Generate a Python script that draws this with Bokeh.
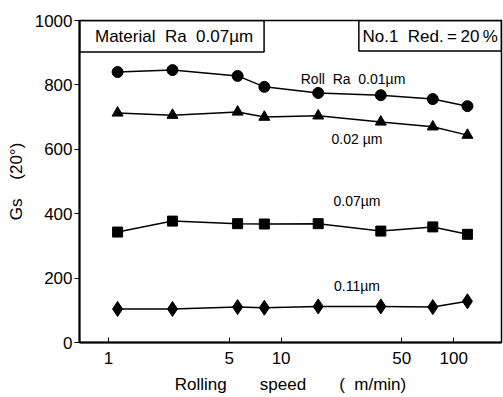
from bokeh.plotting import figure
from bokeh.models import FixedTicker, BoxAnnotation, Label, Range1d, PrintfTickFormatter
from bokeh.embed import file_html
from bokeh.resources import INLINE

# Data
speed = [1.13, 2.35, 5.6, 8.0, 16.4, 37.8, 75.6, 120]
gs_001 = [840, 846, 828, 794, 775, 768, 756, 734]
gs_002 = [713, 706, 716, 700, 704, 685, 670, 644]
gs_007 = [343, 377, 369, 368, 369, 346, 359, 336]
gs_011 = [104, 104, 110, 108, 112, 112, 110, 128]
x_ticks = [1, 5, 10, 50, 100]
y_ticks = [0, 200, 400, 600, 800, 1000]

FONT = "Liberation Sans"

p = figure(width=503, height=397, x_axis_type="log", output_backend="svg",
           toolbar_location=None, x_range=Range1d(0.68, 189), y_range=Range1d(0, 1000),
           min_border_left=79, min_border_right=2, min_border_top=20, min_border_bottom=55)
p.grid.visible = False
p.outline_line_color = "black"
p.outline_line_alpha = 1
p.outline_line_width = 1.5
p.background_fill_color = "white"
p.border_fill_color = "white"

for ax in (p.xaxis[0], p.yaxis[0]):
    ax.axis_line_width = 2
    ax.axis_line_color = "black"
    ax.major_label_text_font = FONT
    ax.major_label_text_font_size = "17px"
    ax.major_label_text_color = "black"
    ax.minor_tick_line_color = None
    ax.axis_label_text_font = FONT
    ax.axis_label_text_font_style = "normal"
    ax.axis_label_text_color = "black"

p.xaxis.ticker = FixedTicker(ticks=x_ticks)
p.xaxis.formatter = PrintfTickFormatter(format="%d")
p.xaxis.major_tick_in = 5
p.xaxis.major_tick_out = 0
p.xaxis.major_label_standoff = 9
sp = "\u00a0" * 7
p.xaxis.axis_label = "Rolling" + sp + "speed" + sp + "(\u00a0\u00a0m/min)"
p.xaxis.axis_label_text_font_size = "17px"
p.xaxis.axis_label_standoff = 8

p.yaxis.ticker = FixedTicker(ticks=y_ticks)
p.yaxis.major_tick_in = 0
p.yaxis.major_tick_out = 5
p.yaxis.major_label_standoff = 2
p.yaxis.axis_label = "Gs\u00a0\u00a0\u00a0\u00a0(20°)"
p.yaxis.axis_label_text_font_size = "17px"
p.yaxis.axis_label_standoff = 6

lw = 1.5
p.line(speed, gs_001, line_color="black", line_width=lw)
p.scatter(speed, gs_001, marker="circle", size=11, color="black")
p.line(speed, gs_002, line_color="black", line_width=lw)
p.scatter(speed, gs_002, marker="triangle", size=11, color="black")
p.line(speed, gs_007, line_color="black", line_width=lw)
p.scatter(speed, gs_007, marker="square", size=10, color="black")
p.line(speed, gs_011, line_color="black", line_width=lw)
p.scatter(speed, gs_011, marker="diamond", size=15, color="black")

# Boxed annotations
p.add_layout(BoxAnnotation(left=0.68, right=7.97, bottom=902, top=1000,
                           fill_alpha=0, line_color="black", line_alpha=1, line_width=1.5))
p.add_layout(BoxAnnotation(left=28.2, right=189, bottom=905, top=1000,
                           fill_alpha=0, line_color="black", line_alpha=1, line_width=1.5))
p.add_layout(Label(x=2.4, y=951, text="Material\u00a0\u00a0Ra\u00a0\u00a00.07\u00b5m",
                   text_font=FONT, text_font_size="17px", text_align="center",
                   text_baseline="middle", text_color="black"))
p.add_layout(Label(x=73, y=951, text="No.1\u00a0\u00a0Red.\u2009=\u200920\u2009%",
                   text_font=FONT, text_font_size="17px", text_align="center",
                   text_baseline="middle", text_color="black"))

# Series labels
for x, y, t in [(26.1, 818, "Roll\u00a0\u00a0Ra\u00a0\u00a00.01\u00b5m"),
                (27.5, 631, "0.02\u00a0\u00b5m"),
                (27.5, 438, "0.07\u00b5m"),
                (27.5, 174, "0.11\u00b5m")]:
    p.add_layout(Label(x=x, y=y, text=t, text_font=FONT, text_font_size="14px",
                       text_align="center", text_baseline="middle", text_color="black"))

open("out.html", "w").write(file_html(p, INLINE))
